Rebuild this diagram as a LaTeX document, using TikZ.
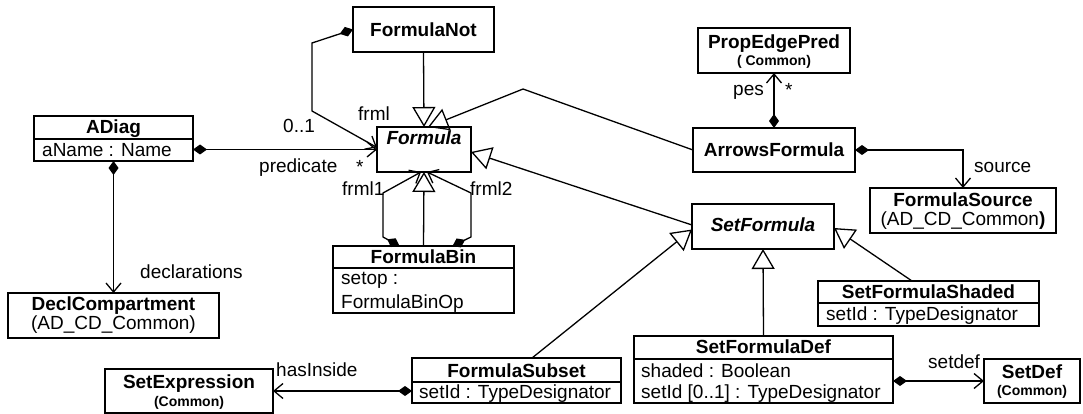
\documentclass[tikz,border=0pt]{standalone}
\usepackage{fontspec}
\setmainfont{Liberation Sans}
\usetikzlibrary{arrows.meta}
\begin{document}
\begin{tikzpicture}[x=1pt,y=-1pt,
  cls/.style={draw, line width=1.3pt, inner sep=0pt, outer sep=0pt, anchor=north west},
  ttl/.style={inner sep=0pt, anchor=base, font=\fontsize{19}{22}\selectfont\bfseries},
  absttl/.style={ttl, font=\fontsize{19}{22}\selectfont\bfseries\itshape},
  pkg/.style={inner sep=0pt, anchor=base, font=\fontsize{14}{16}\selectfont\bfseries},
  pkgreg/.style={inner sep=0pt, anchor=base, font=\fontsize{19}{22}\selectfont},
  attr/.style={inner sep=0pt, anchor=base west, font=\fontsize{19}{22}\selectfont},
  lbl/.style={inner sep=0pt, anchor=base west, font=\fontsize{19}{22}\selectfont},
  sep/.style={line width=1.3pt},
  link/.style={line width=1.3pt, line join=miter},
  comp/.style={link, {Diamond[length=14pt,width=10pt]}-{Straight Barb[length=9pt,width=15pt]}},
  gen/.style={link, -{Triangle[open,length=20pt,width=23pt]}},
]
\useasboundingbox (0,0) rectangle (1083,414);

% ---- classes ----
\node[cls, minimum width=159pt, minimum height=45pt] (ADiag) at (34,116) {};
\draw[sep] (34,139) -- (193,139);
\node[ttl] (ADiagN) at (113.5,133.5) {ADiag};
\node[attr] (ADiagA) at (42,157) {aName : Name};

\node[cls, minimum width=141pt, minimum height=45pt] (FormulaNot) at (353,7) {};
\node[ttl] (FormulaNotN) at (423.5,36.5) {FormulaNot};

\node[cls, minimum width=94pt, minimum height=45pt] (Formula) at (377,127) {};
\node[absttl] (FormulaN) at (424,145) {Formula};

\node[cls, minimum width=181pt, minimum height=67pt] (FormulaBin) at (333,246) {};
\draw[sep] (333,268) -- (514,268);
\node[ttl] (FormulaBinN) at (423.5,263.5) {FormulaBin};
\node[attr] (FormulaBinA) at (341,284.5) {setop :};
\node[attr] (FormulaBinB) at (341,308) {FormulaBinOp};

\node[cls, minimum width=152pt, minimum height=45pt] (PropEdgePred) at (698,28) {};
\node[ttl] (PropEdgePredN) at (774,48.5) {PropEdgePred};
\node[pkg] (PropEdgePredP) at (774,66) {( Common)};

\node[cls, minimum width=162pt, minimum height=44pt] (ArrowsFormula) at (693,128) {};
\node[ttl] (ArrowsFormulaN) at (774,157) {ArrowsFormula};

\node[cls, minimum width=186pt, minimum height=45pt] (FormulaSource) at (870,188) {};
\node[ttl] (FormulaSourceN) at (963,206) {FormulaSource};
\node[pkgreg] (FormulaSourceP) at (963,225) {(AD\_CD\_Common\textbf{)}};

\node[cls, minimum width=142pt, minimum height=45pt] (SetFormula) at (692,204) {};
\node[absttl] (SetFormulaN) at (763,231.5) {SetFormula};

\node[cls, minimum width=221pt, minimum height=45pt] (SetFormulaShaded) at (818,281) {};
\draw[sep] (818,303) -- (1039,303);
\node[ttl] (SetFormulaShadedN) at (928.5,298.5) {SetFormulaShaded};
\node[attr] (SetFormulaShadedA) at (826,320) {setId : TypeDesignator};

\node[cls, minimum width=259pt, minimum height=67pt] (SetFormulaDef) at (634,336) {};
\draw[sep] (634,359) -- (893,359);
\node[ttl] (SetFormulaDefN) at (763.5,353) {SetFormulaDef};
\node[attr] (SetFormulaDefA) at (641,377) {shaded : Boolean};
\node[attr] (SetFormulaDefB) at (641,398.5) {setId [0..1] : TypeDesignator};

\node[cls, minimum width=96pt, minimum height=44pt] (SetDef) at (984,359) {};
\node[ttl] (SetDefN) at (1032,378.5) {SetDef};
\node[pkg] (SetDefP) at (1032,395.5) {(Common)};

\node[cls, minimum width=209pt, minimum height=45pt] (FormulaSubset) at (412,358) {};
\draw[sep] (412,382) -- (621,382);
\node[ttl] (FormulaSubsetN) at (516.5,377) {FormulaSubset};
\node[attr] (FormulaSubsetA) at (419,398.5) {setId : TypeDesignator};

\node[cls, minimum width=168pt, minimum height=44pt] (SetExpression) at (105,369) {};
\node[ttl] (SetExpressionN) at (189,388.5) {SetExpression};
\node[pkg] (SetExpressionP) at (189,406) {(Common)};

\node[cls, minimum width=211pt, minimum height=45pt] (DeclCompartment) at (8,293) {};
\node[ttl] (DeclCompartmentN) at (113.5,310.5) {DeclCompartment};
\node[pkgreg] (DeclCompartmentP) at (113.5,329) {(AD\_CD\_Common)};

% ---- bend points ----
\coordinate (notA) at (312,43);
\coordinate (notB) at (312,111);
\coordinate (arrA) at (523,89);
\coordinate (b1A) at (383,237);
\coordinate (b1B) at (383,193);
\coordinate (b2A) at (471,237);
\coordinate (b2B) at (471,193);

% ---- compositions ----
\draw[comp] (ADiag.east |- Formula.west) -- (Formula.west);
\draw[comp] (FormulaNot.west) -- (notA) -- (notB) -- ([yshift=2pt]Formula.west);
\draw[comp] ([xshift=-24pt]FormulaBin.north) -- (b1A) -- (b1B) -- ([xshift=-3pt]Formula.south);
\draw[comp] ([xshift=29pt]FormulaBin.north) -- (b2A) -- (b2B) -- ([xshift=3pt]Formula.south);
\draw[comp] (ADiag.south) -- (DeclCompartment.north);
\draw[comp] (ArrowsFormula.north) -- (PropEdgePred.south);
\draw[comp] (ArrowsFormula.east) -| (FormulaSource.north);
\draw[comp] (FormulaSubset.west |- SetExpression.east) -- (SetExpression.east);
\draw[comp] (SetFormulaDef.east |- SetDef.west) -- (SetDef.west);

% ---- generalizations ----
\draw[gen] (FormulaNot.south) -- (Formula.north);
\draw[gen] (ArrowsFormula.west) -- (arrA) -- ([xshift=4pt]Formula.north);
\draw[gen] ([yshift=1.5pt]SetFormula.west) -- ([yshift=-2.5pt]Formula.east);
\draw[gen] (FormulaBin.north) -- (Formula.south);
\draw[gen] ([xshift=15.5pt]FormulaSubset.north) -- ([yshift=-3pt]SetFormula.west);
\draw[gen] (SetFormulaDef.north) -- (SetFormula.south);
\draw[gen] ([xshift=-16.5pt]SetFormulaShaded.north) -- ([yshift=-1.5pt]SetFormula.east);

% ---- role names and multiplicities ----
\node[lbl] (l01) at (283,133) {0..1};
\node[lbl] (lfrml) at (358,121) {frml};
\node[lbl] (lpred) at (259,173) {predicate};
\node[lbl] (lpredm) at (356,173.5) {*};
\node[lbl] (lfrml1) at (342,196) {frml1};
\node[lbl] (lfrml2) at (470,196) {frml2};
\node[lbl] (ldecl) at (140,278) {declarations};
\node[lbl] (lpes) at (733,95.5) {pes};
\node[lbl] (lpesm) at (785,96.5) {*};
\node[lbl] (lsrc) at (974,173) {source};
\node[lbl] (lins) at (276,376) {hasInside};
\node[lbl] (lsdef) at (928,368) {setdef};
\end{tikzpicture}
\end{document}
